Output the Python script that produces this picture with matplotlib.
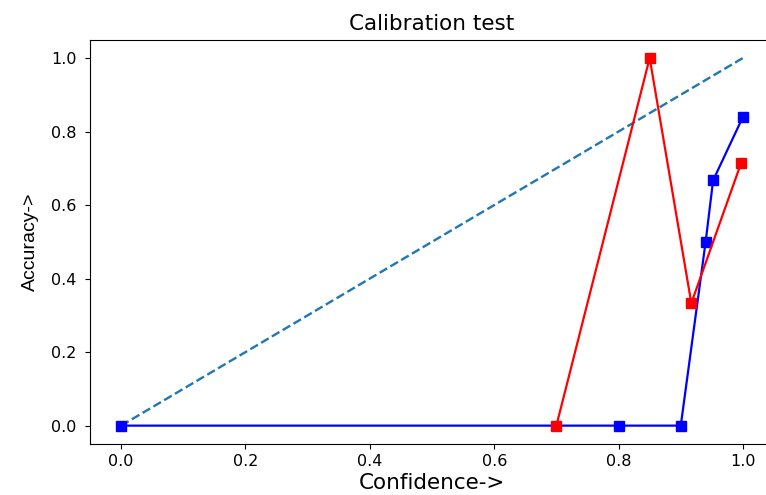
import matplotlib
matplotlib.use("Agg")
import matplotlib.pyplot as plt

# reliability curve points (mean confidence, accuracy) per bin
conf_a = [0.0, 0.80, 0.90, 0.94, 0.952, 1.0]
acc_a = [0.0, 0.0, 0.0, 0.5, 0.667, 0.84]

conf_b = [0.70, 0.85, 0.917, 0.997]
acc_b = [0.0, 1.0, 0.333, 0.714]

perfect = [0.0, 1.0]

fig = plt.figure(figsize=(7.66, 4.95), dpi=100)
ax = fig.add_axes([0.1175, 0.103, 0.893, 0.817])

ax.plot(perfect, perfect, linestyle="--", color="#1f77b4", linewidth=1.7)
ax.plot(conf_a, acc_a, marker="s", color="blue", linewidth=1.6, markersize=7.5)
ax.plot(conf_b, acc_b, marker="s", color="red", linewidth=1.6, markersize=7.5)

ax.set_title("Calibration test", fontsize=15.5, pad=7)
ax.set_xlabel("Confidence->", fontsize=15.5, labelpad=3)
ax.set_ylabel("Accuracy->", fontsize=14, labelpad=9,
              family=["Liberation Sans Narrow", "Liberation Sans", "DejaVu Sans"])
ax.tick_params(labelsize=11.5)
ax.tick_params(axis="y", pad=6)

fig.savefig("out.png", dpi=100)
